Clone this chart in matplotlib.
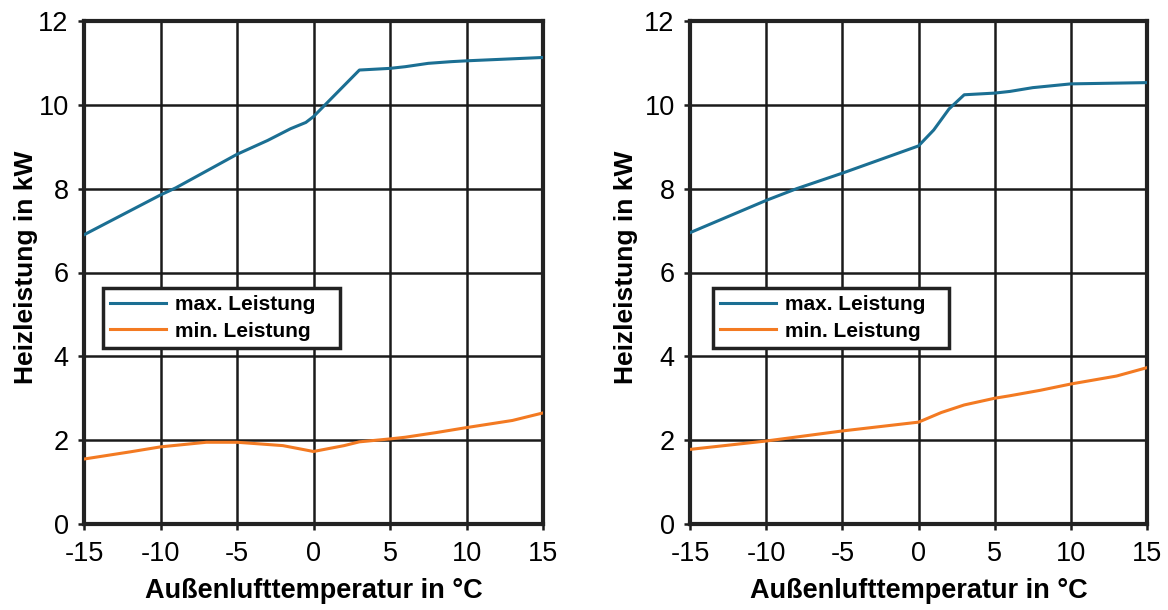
import matplotlib
matplotlib.use("Agg")
import matplotlib.pyplot as plt

plt.rcParams['font.family'] = ['Liberation Sans', 'DejaVu Sans']

# Left chart
left_max_x = [-15, -10, -9, -6, -5, -3, -1.5, -0.5, 0, 3, 5, 6, 7.5, 9, 10, 15]
left_max_y = [6.9, 7.85, 8.02, 8.62, 8.82, 9.15, 9.43, 9.58, 9.72, 10.83, 10.87, 10.91, 10.99, 11.03, 11.05, 11.13]
left_min_x = [-15, -12, -10, -7, -5, -2, 0, 2, 3, 5, 6, 8, 10, 13, 15]
left_min_y = [1.55, 1.72, 1.84, 1.95, 1.95, 1.87, 1.73, 1.87, 1.96, 2.03, 2.07, 2.18, 2.3, 2.47, 2.65]

# Right chart
right_max_x = [-15, -10, -8, -5, -3, 0, 1, 2, 3, 5, 6, 7.5, 10, 15]
right_max_y = [6.95, 7.72, 8.0, 8.37, 8.63, 9.02, 9.4, 9.9, 10.24, 10.28, 10.32, 10.41, 10.5, 10.53]
right_min_x = [-15, -12, -10, -5, 0, 1.5, 3, 5, 6, 8, 10, 13, 15]
right_min_y = [1.78, 1.9, 1.98, 2.22, 2.43, 2.66, 2.84, 3.0, 3.06, 3.19, 3.34, 3.53, 3.73]

xticks = [-15, -10, -5, 0, 5, 10, 15]
yticks = [0, 2, 4, 6, 8, 10, 12]
xlabel = "Außenlufttemperatur in °C"
ylabel = "Heizleistung in kW"
label_max = "max. Leistung"
label_min = "min. Leistung"

BLUE = "#1b6f93"
ORANGE = "#f37a22"

fig = plt.figure(figsize=(11.68, 6.10), dpi=100)
ax1 = fig.add_axes([84 / 1168, 86 / 610, 459 / 1168, 503 / 610])
ax2 = fig.add_axes([690 / 1168, 86 / 610, 457 / 1168, 503 / 610])

for ax, (mx, my, nx, ny), legx, ylx in [
    (ax1, (left_max_x, left_max_y, left_min_x, left_min_y), 0.041, -0.101),
    (ax2, (right_max_x, right_max_y, right_min_x, right_min_y), 0.050, -0.113),
]:
    ax.plot(mx, my, color=BLUE, lw=2.2, label=label_max, zorder=3)
    ax.plot(nx, ny, color=ORANGE, lw=2.2, label=label_min, zorder=3)
    ax.set_xlim(-15, 15)
    ax.set_ylim(0, 12)
    ax.set_xticks(xticks)
    ax.set_yticks(yticks)
    ax.set_xticklabels([str(t) for t in xticks])
    ax.grid(True, color="#1a1a1a", lw=1.8, zorder=1)
    ax.set_axisbelow(True)
    for s in ax.spines.values():
        s.set_linewidth(3)
        s.set_color("#222222")
    ax.tick_params(axis='both', labelsize=19.5, length=4, width=1.8, color="#1a1a1a", direction='out')
    ax.tick_params(axis='x', pad=8)
    ax.tick_params(axis='y', pad=7)
    ax.set_xlabel(xlabel, fontsize=19.5, fontweight='bold', labelpad=8)
    ax.set_ylabel(ylabel, fontsize=19, fontweight='bold')
    ax.yaxis.set_label_coords(ylx, 0.51)
    leg = ax.legend(loc='lower left', bbox_to_anchor=(legx, 0.35, 0.516, 0.132), mode='expand',
                    fancybox=False, framealpha=1, edgecolor="#222222",
                    prop={'weight': 'bold', 'size': 15}, handlelength=2.7, handletextpad=0.4,
                    borderaxespad=0, labelspacing=0.35, borderpad=0.35)
    leg.get_frame().set_linewidth(2.5)
    leg.set_zorder(5)

fig.savefig("out.png", dpi=100)
